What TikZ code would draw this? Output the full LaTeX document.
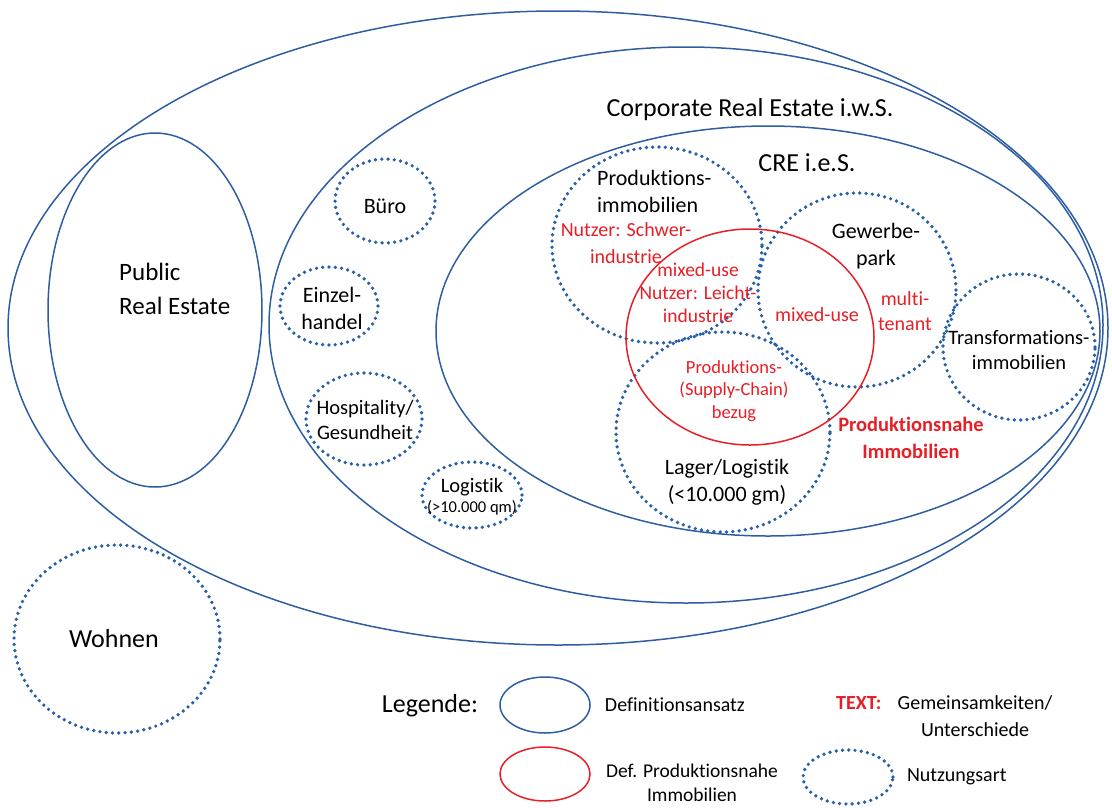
\documentclass[tikz,border=0pt]{standalone}
\usepackage{fontspec}
\setmainfont{Carlito}[Ligatures=NoCommon]
\usepackage{tikz}
\usetikzlibrary{positioning, shapes.geometric}

\definecolor{defblue}{RGB}{46,94,162}
\definecolor{nutzblue}{RGB}{38,96,168}
\definecolor{pnred}{RGB}{232,30,38}

\newcommand{\fbig}{\fontsize{26}{31}\selectfont}
\newcommand{\fpub}{\fontsize{25}{34}\selectfont}
\newcommand{\fmid}{\fontsize{22}{27}\selectfont}
\newcommand{\fsml}{\fontsize{20.5}{25}\selectfont}
\newcommand{\fred}{\fontsize{19.5}{23}\selectfont}
\newcommand{\fleg}{\fontsize{20}{26}\selectfont}

\begin{document}
\begin{tikzpicture}[x=1pt,y=-1pt,
  defin/.style={draw=defblue,line width=1.5pt},
  nutz/.style={draw=nutzblue,line width=3.7pt,line cap=round,dash pattern=on 0pt off 6.3pt},
  pnah/.style={draw=pnred,line width=1.5pt},
  lbl/.style={inner sep=0pt,align=center},
  rtext/.style={lbl,text=pnred,font=\fred}]
\useasboundingbox (0,0) rectangle (1112,807);
% Definitionsansaetze
\draw[defin] (558,328) ellipse [x radius=550pt, y radius=317pt];
\draw[defin] (686,325) ellipse [x radius=417pt, y radius=278pt];
\draw[defin] (768,331) ellipse [x radius=332pt, y radius=205pt];
\draw[defin] (155,310) ellipse [x radius=107pt, y radius=177pt];
% Nutzungsarten
\foreach \x/\y/\rx/\ry in {657/245/105/98, 857/290/99/97, 723/432/107/100,
  1019/347/76/73, 385/201/50/42, 329/306/49/39, 364/419/58/46,
  472/495/50/33, 117/639/103/94} {
  \draw[nutz] (\x,\y) ellipse [x radius=\rx pt, y radius=\ry pt];
}
% Produktionsnahe Immobilien
\draw[pnah] (750,337) ellipse [x radius=124pt, y radius=108pt];

% Beschriftungen
\node[lbl,font=\fbig] (iws) at (750,110) {Corporate Real Estate i.w.S.};
\node[lbl,font=\fbig] (ies) at (807,163) {CRE i.e.S.};
\node[lbl,font=\fpub,align=left,anchor=west] (pub) at (119,289) {Public\\Real Estate};
\node[lbl,font=\fbig] (wohn) at (114,639) {Wohnen};
\node[lbl,font=\fmid,align=left,anchor=west] (prod) at (597,191) {Produktions-\\immobilien};
\node[lbl,font=\fmid] (gew) at (876,246) {Gewerbe-\\park};
\node[lbl,font=\fmid] (lager) at (727,482) {Lager/Logistik\\(<10.000 gm)};
\node[lbl,font=\fsml] (trans) at (1019,350) {Transformations-\\immobilien};
\node[lbl,font=\fmid] (buero) at (385,206) {Büro};
\node[lbl,font=\fmid] (einz) at (332,308) {Einzel-\\handel};
\node[lbl,font=\fsml] (hosp) at (365,420) {Hospitality/\\Gesundheit};
\node[lbl,font=\fsml] (logi) at (472,487) {Logistik};
\node[lbl,font=\fontsize{16.5}{20}\selectfont] (logiqm) at (472,508) {(>10.000 qm)};

% Gemeinsamkeiten / Unterschiede
\node[rtext,font=\fontsize{20}{27}\selectfont] (schwer) at (626,243) {Nutzer: Schwer-\\industrie};
\node[rtext] (leicht) at (698,293) {mixed-use\\Nutzer: Leicht-\\industrie};
\node[rtext,font=\fontsize{20}{25}\selectfont] (mixgew) at (817,315) {mixed-use};
\node[rtext,font=\fontsize{20}{25}\selectfont] (multi) at (905,311) {multi-\\tenant};
\node[rtext,font=\fontsize{18.5}{22.5}\selectfont] (bezug) at (734,391) {Produktions-\\(Supply-Chain)\\bezug};
\node[rtext,font=\fontsize{20.5}{27}\selectfont\bfseries] (pnahtxt) at (911,438) {Produktionsnahe\\Immobilien};

% Legende
\node[lbl,font=\fbig] (leg) at (430,706) {Legende:};
\node[ellipse,defin,minimum width=90pt,minimum height=56pt] (legdef) at (545,705) {};
\node[lbl,font=\fleg,right=14pt of legdef] (legdeftxt) {Definitionsansatz};
\node[ellipse,pnah,minimum width=90pt,minimum height=54pt] (legpn) at (545,774) {};
\node[lbl,font=\fontsize{19.5}{24}\selectfont] (legpntxt) at (692,783) {Def. Produktionsnahe\\Immobilien};
\node[lbl,font=\fontsize{20}{26}\selectfont\bfseries,text=pnred,anchor=west] (legtext) at (836,703) {TEXT:};
\node[lbl,font=\fontsize{20}{27}\selectfont] (leggem) at (975,716) {Gemeinsamkeiten/\\Unterschiede};
\node[ellipse,nutz,minimum width=90pt,minimum height=54pt] (legnutz) at (848,777) {};
\node[lbl,font=\fleg,right=12pt of legnutz] (legnutztxt) {Nutzungsart};
\end{tikzpicture}
\end{document}
